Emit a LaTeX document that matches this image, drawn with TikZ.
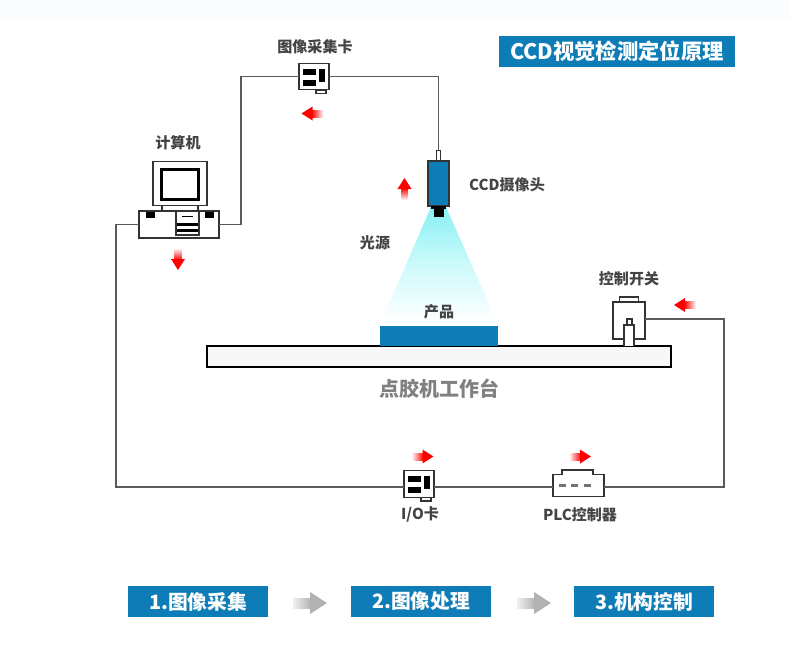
\documentclass[tikz,border=0pt]{standalone}
\usepackage{fontspec}
\setmainfont{Noto Sans CJK SC}
\usetikzlibrary{arrows.meta, positioning}

\definecolor{bannerblue}{RGB}{14,125,183}
\definecolor{labelgray}{RGB}{68,68,68}
\definecolor{wiregray}{RGB}{90,90,90}
\definecolor{topband}{RGB}{251,252,255}
\definecolor{conecyan}{RGB}{135,240,245}
\definecolor{conemid}{RGB}{205,250,250}

% red flow mark: position, rotation
\newcommand{\flowmark}[2]{
  \begin{scope}[shift={(#1)}, rotate=#2]
    \shade[left color=white, right color=red, shading angle=90+#2] (-11,-3.5) rectangle (1,3.5);
    \fill[red] (0,-7) -- (11,0) -- (0,7) -- cycle;
  \end{scope}
}
% grey step arrow between the banners
\newcommand{\steparrow}[1]{
  \begin{scope}[shift={(#1)}]
    \shade[left color=black!6, right color=black!30] (-17,-5) rectangle (1,5);
    \fill[black!30] (0,-11) -- (17,0) -- (0,11) -- cycle;
  \end{scope}
}
% black bars of a card
\newcommand{\cardbars}[1]{
  \begin{scope}[shift={(#1.center)}]
    \fill (-11,-8) rectangle (2,-2);
    \fill (-11,3) rectangle (2,9);
    \fill (5,-8) rectangle (11,5);
    \draw[part, fill=white] (2,13.5) rectangle (12,17);
  \end{scope}
}

\begin{document}
\begin{tikzpicture}[
  x=0.75pt, y=-0.75pt,
  font=\bfseries,
  part/.style={draw=black!80, fill=white, line width=0.9pt, inner sep=0pt, outer sep=0pt},
  card/.style={part, minimum width=22.5pt, minimum height=20pt},
  wire/.style={draw=wiregray, line width=0.95pt},
  label/.style={text=labelgray, font=\fontsize{11.3}{13}\selectfont\bfseries, inner sep=0pt},
  banner/.style={fill=bannerblue, text=white, inner sep=0pt, minimum height=23.25pt,
    font=\fontsize{14.8}{18}\selectfont\bfseries}
]
\useasboundingbox (0,0) rectangle (790,653);
\fill[topband] (0,0) rectangle (790,19);

% --- Light cone ---
\shade[top color=conecyan, bottom color=white, middle color=conemid] (431,207) -- (446,207) -- (497,322) -- (381,322) -- cycle;

% --- Camera ---
\node[part, fill=bannerblue, minimum width=15.75pt, minimum height=33.75pt] (camera) at (438.5,183.5) {};
\node[part, minimum width=3.4pt, minimum height=8pt, above=0pt of camera] (camtop) {};
\fill (431,206) rectangle (446,209);
\fill (433.5,206) rectangle (443.5,217);

% --- Table and product ---
\node[part, draw=black, fill=black!3, line width=1.2pt, minimum width=348pt, minimum height=15.75pt] (table) at (439,356.5) {};
\node[fill=bannerblue, inner sep=0pt, minimum width=88.5pt, minimum height=15pt, anchor=south] (product) at (table.north) {};

% --- Computer ---
\node[part, minimum width=60pt, minimum height=20.25pt] (computer) at (179,224.5) {};
\node[part, minimum width=27pt, minimum height=4pt, above=0pt of computer, xshift=0.75pt] (neck) {};
\node[part, minimum width=40.5pt, minimum height=33pt, above=0pt of neck] (monitor) {};
\node[part, draw=black, line width=1.8pt, minimum width=27.5pt, minimum height=22.5pt] (screen) at (180,184.5) {};
\fill (146,212) rectangle (155,218);
\fill (205,212) rectangle (214,218);
\draw[part] (176,211) rectangle (199,235);
\draw[line width=1pt] (182,216.5) -- (193,216.5);
\fill (177,222.5) rectangle (198,226);
\fill (177,229) rectangle (198,232);

% --- Cards, PLC, switch ---
\node[card] (capture) at (314,76.5) {};
\cardbars{capture}
\node[card] (io) at (419,484) {};
\cardbars{io}

\node[part, minimum width=38.25pt, minimum height=16.75pt] (plc) at (578.5,485.5) {};
\draw[part] (562,474.5) -- (562,470) -- (593,470) -- (593,474.5);
\foreach \dx in {-19.5,-7.5,5.5}
  \draw[line width=2pt, black!55] ([xshift=\dx*0.75pt]plc.center) -- ++(7,0);

\node[part, minimum width=24pt, minimum height=27.75pt] (switch) at (629,320.5) {};
\node[part, minimum width=14.25pt, minimum height=3.75pt, above=0pt of switch] (switchtop) {};
\draw[part] (624,345.5) -- (624,325) -- (634,325) -- (634,345.5);
\draw[part] (627,325) rectangle (632,319);

% --- Wires ---
\draw[wire] (computer.east) -- ++(22,0) |- (capture.west);
\draw[wire] (capture.east) -| (camtop.north);
\draw[wire] (computer.west) -- ++(-23,0) |- ([yshift=-2.25pt]io.west);
\draw[wire] ([yshift=-2.25pt]io.east) -- ([yshift=-1.125pt]plc.west);
\draw[wire] ([yshift=-1.125pt]plc.east) -- ++(120,0) |- ([yshift=1.125pt]switch.east);

% --- Labels ---
\node[label] (capturelabel) at (315,47) {图像采集卡};
\node[label] (computerlabel) at (178,143) {计算机};
\node[label] (cameralabel) at (507,184.5) {CCD摄像头};
\node[label] (lightlabel) at (375,243) {光源};
\node[label] (productlabel) at (439,312) {产品};
\node[label] (switchlabel) at (629,279) {控制开关};
\node[label] (iolabel) at (420,514.5) {I/O卡};
\node[label] (plclabel) at (580,515) {PLC控制器};
\node[text=black!50, inner sep=0pt, font=\fontsize{15}{17}\selectfont\bfseries] (tablelabel) at (439,388.5) {点胶机工作台};

% --- Flow marks ---
\flowmark{312.5,113.5}{180}
\flowmark{178,259}{-90}
\flowmark{404.5,189}{90}
\flowmark{685,305}{180}
\flowmark{422.5,456.5}{0}
\flowmark{580,456.5}{0}

% --- Title and steps ---
\node[banner, minimum width=177pt, font=\fontsize{16}{18}\selectfont\bfseries] (title) at (617,51.5) {CCD视觉检测定位原理};
\node[banner, minimum width=105pt] (stepa) at (198,601.5) {1.图像采集};
\node[banner, minimum width=105pt] (stepb) at (421,601.5) {2.图像处理};
\node[banner, minimum width=105pt] (stepc) at (644,601.5) {3.机构控制};
\steparrow{310,603}
\steparrow{534,603}

\end{tikzpicture}
\end{document}
